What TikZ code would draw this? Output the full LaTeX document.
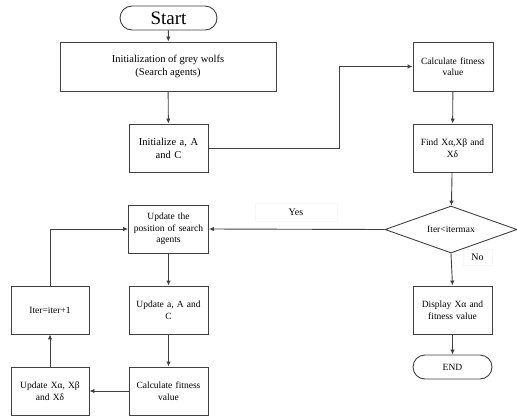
\documentclass[tikz,border=0pt]{standalone}
\usepackage{fontspec}
\setmainfont{Liberation Serif}
\usetikzlibrary{shapes.geometric,shapes.misc,arrows.meta}
\definecolor{linec}{HTML}{404040}
\tikzset{
  box/.style={draw=linec, line width=0.9pt, fill=white, align=center, inner sep=2pt, font=\fontsize{9.5}{11.5}\selectfont},
  term/.style={draw=linec, line width=0.9pt, rounded rectangle, align=center, inner sep=0pt},
  dec/.style={draw=linec, line width=0.9pt, diamond, aspect=2.8, inner sep=0pt, font=\fontsize{9.5}{11}\selectfont},
  conn/.style={draw=linec, line width=0.9pt, -{Latex[length=5pt,width=4.5pt]}},
  lab/.style={fill=white, draw=black!3, inner sep=0pt, font=\fontsize{10}{12}\selectfont}
}
\begin{document}
\begin{tikzpicture}[x=1pt,y=-1pt]
\useasboundingbox (0,0) rectangle (517,416);
\node[term, minimum width=97pt, minimum height=24pt, font=\fontsize{19}{20}\selectfont] (start) at (168.5,18) {Start};
\node[box, minimum width=216pt, minimum height=49pt, font=\fontsize{10.5}{13}\selectfont] (init) at (168,66.5) {Initialization of grey wolfs\\(Search agents)};
\node[box, minimum width=79pt, minimum height=48pt, text width=70pt, font=\fontsize{10.5}{13}\selectfont] (initA) at (168.5,148) {Initialize a, A\\and C};
\node[box, minimum width=80pt, minimum height=49pt, text width=74pt] (calc1) at (453,66.5) {Calculate fitness\\value};
\node[box, minimum width=79pt, minimum height=48pt, text width=74pt] (find) at (452.5,148) {Find Xα,Xβ and\\Xδ};
\node[dec, minimum width=132pt, minimum height=47pt] (dec) at (451,229.5) {Iter<itermax};
\node[box, minimum width=79pt, minimum height=48pt, text width=76pt] (pos) at (168.5,229) {Update the\\position of search\\agents};
\node[box, minimum width=79pt, minimum height=48pt, text width=74pt] (updA) at (168.5,310) {Update a, A and\\C};
\node[box, minimum width=79pt, minimum height=48pt, text width=74pt] (calc2) at (168.5,391) {Calculate fitness\\value};
\node[box, minimum width=78pt, minimum height=48pt, text width=74pt] (updX) at (50,391) {Update Xα, Xβ\\and Xδ};
\node[box, minimum width=78pt, minimum height=48pt, text width=74pt] (iter) at (50,310) {Iter=iter+1};
\node[box, minimum width=79pt, minimum height=48pt, text width=74pt] (disp) at (452.5,310) {Display Xα and\\fitness value};
\node[term, minimum width=79pt, minimum height=24pt, font=\fontsize{9.5}{11}\selectfont] (end) at (452.5,367) {END};

\coordinate (c1) at (339,148);
\coordinate (c2) at (50,229);

\draw[conn] (start) -- (init);
\draw[conn] (init) -- (initA);
\draw[conn] (initA.east) -- (c1) |- (calc1.west);
\draw[conn] (calc1) -- (find);
\draw[conn] (find) -- (dec);
\draw[conn] (dec.west) -- (pos.east);
\draw[conn] (dec.south) -- (disp.north);
\draw[conn] (disp) -- (end);
\draw[conn] (pos) -- (updA);
\draw[conn] (updA) -- (calc2);
\draw[conn] (calc2.west) -- (updX.east);
\draw[conn] (updX) -- (iter);
\draw[conn] (iter.north) -- (c2) -- (pos.west);

\node[lab, minimum width=82pt, minimum height=18pt] (yes) at (296,212.5) {Yes};
\node[lab, minimum width=29pt, minimum height=16pt] (no) at (477.5,257) {No};
\end{tikzpicture}
\end{document}
